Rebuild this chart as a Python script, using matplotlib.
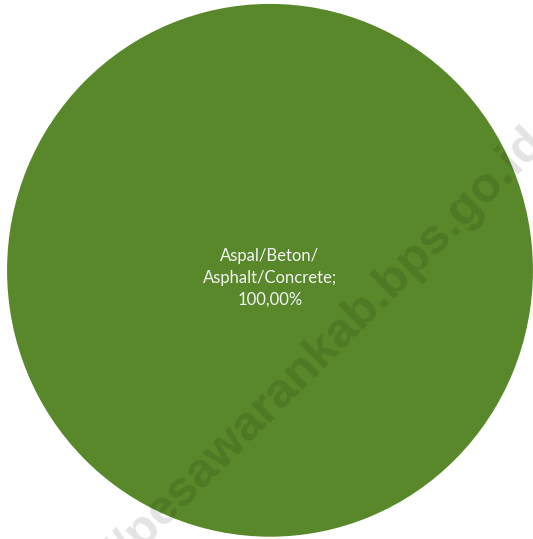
import matplotlib.pyplot as plt

# -------------------- data --------------------
categories = ["Aspal/Beton/\nAsphalt/Concrete"]
shares = [100.0]
colors = ["#58882A"]
watermark = "https://pesawarankab.bps.go.id"

W, H = 533, 539
XSQUASH = 0.987   # source image is a touch narrower than tall


def pct_label(pct):
    # Excel style label: "category; 100,00%"
    return f"{categories[0]};\n{pct:.2f}%".replace(".", ",")


fig = plt.figure(figsize=(W / 100, H / 100), dpi=100)
ax = fig.add_axes([0, 0, 1, 1])

ax.pie(shares, colors=colors, radius=266.4, center=(270 / XSQUASH, H - 270.3),
       startangle=90, counterclock=False, autopct=pct_label, pctdistance=0.028,
       wedgeprops=dict(linewidth=0),
       textprops=dict(color="#F4F4F4", fontsize=12, family="Lato",
                      linespacing=1.42))

ax.set_aspect("auto")
ax.set_xlim(0, W / XSQUASH)
ax.set_ylim(0, H)
ax.axis("off")

# watermark across the chart
fig.text(546 / W, 1 - 143 / H, watermark, rotation=45, rotation_mode="anchor",
         ha="right", va="baseline", fontsize=35.5, fontweight="bold",
         family="Liberation Sans", color="black", alpha=0.11)

plt.savefig("out.png", dpi=100)
